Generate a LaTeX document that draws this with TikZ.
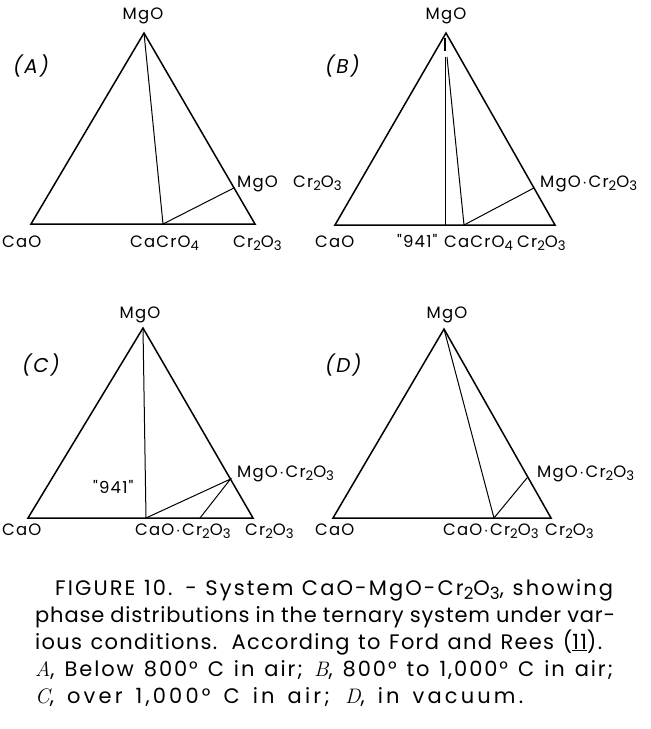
\documentclass[tikz,border=0pt]{standalone}
\usepackage{fontspec}
\usepackage{graphicx}
\usetikzlibrary{calc}
\newfontfamily\labfont[LetterSpace=7]{Poppins}
\newfontfamily\panfont[LetterSpace=10]{Poppins}
\newfontfamily\capfont{Poppins}
\newcommand\lsub[1]{\raisebox{-0.35ex}{\scalebox{0.8}{#1}}}
\newcommand\ltr[1]{{\rmfamily\itshape #1}}
\newcommand\mdot{\hspace{1.5pt}$\cdot$\hspace{1.5pt}}
\newcommand\capls[1]{\addfontfeature{LetterSpace=#1}}
\tikzset{
  tri/.style={line width=1.5pt, line join=miter},
  tie/.style={line width=1pt},
  lbl/.style={font=\labfont\fontsize{16.5}{16.5}\selectfont, inner sep=0pt, anchor=base west},
  toplbl/.style={font=\labfont\fontsize{16.5}{16.5}\selectfont, inner sep=0pt, anchor=base},
  panel/.style={font=\panfont\itshape\fontsize{20}{20}\selectfont, inner sep=0pt, anchor=base west},
  capline/.style={font=\capfont\fontsize{21}{21}\selectfont, inner sep=0pt, anchor=base west}
}
\begin{document}
\begin{tikzpicture}[x=1pt,y=-1pt]
\useasboundingbox (0,0) rectangle (651,729);
% ---------- Panel A ----------
\coordinate (Aapex) at (144,33);
\coordinate (AL) at (31,224);
\coordinate (AR) at (255,224);
\coordinate (Acc) at (163,224);
\coordinate (Asp) at ($(Aapex)!0.811!(AR)$);
\draw[tri] (AL) -- (Aapex) -- (AR) -- cycle;
\draw[tie] (Aapex) -- (Acc) -- (Asp);
\node[toplbl] (AtopMgO) at (143,19) {MgO};
\node[panel] (Alab) at (13,73) {(A)};
\node[lbl] (ACaO) at (2,247) {CaO};
\node[lbl] (ACaCrO) at (130,247) {CaCrO\lsub{4}};
\node[lbl] (ACrO) at (233,247) {Cr\lsub{2}O\lsub{3}};
\node[lbl] (AspMgO) at (237,187) {MgO};
\node[lbl] (AspCrO) at (293,187) {Cr\lsub{2}O\lsub{3}};
% ---------- Panel B ----------
\coordinate (Bapex) at (446,33);
\coordinate (BL) at (335,225);
\coordinate (BR) at (555,225);
\coordinate (Bn) at (445,225);
\coordinate (Bnt) at (445,57);
\coordinate (Bda) at (445,38);
\coordinate (Bdb) at (445,51);
\coordinate (Bct) at (447,57);
\coordinate (Bcc) at (464,225);
\coordinate (Bsp) at ($(Bapex)!0.807!(BR)$);
\draw[tri] (BL) -- (Bapex) -- (BR) -- cycle;
\draw[tie] (Bn) -- (Bnt);
\draw[line width=1.8pt] (Bda) -- (Bdb);
\draw[tie] (Bct) -- (Bcc) -- (Bsp);
\node[toplbl] (BtopMgO) at (446,19) {MgO};
\node[panel] (Blab) at (325,73) {(B)};
\node[lbl] (BCaO) at (315,247) {CaO};
\node[lbl] (B941) at (397,247) {"941"};
\node[lbl] (BCaCrO) at (444,247) {CaCrO\lsub{4}};
\node[lbl] (BCrO) at (517,247) {Cr\lsub{2}O\lsub{3}};
\node[lbl] (BspMgO) at (540,187) {MgO\mdot Cr\lsub{2}O\lsub{3}};
% ---------- Panel C ----------
\coordinate (Capex) at (143,328);
\coordinate (CL) at (28,518);
\coordinate (CR) at (253,518);
\coordinate (Cn) at (146,518);
\coordinate (Cb) at (200,518);
\coordinate (Csp) at ($(Capex)!0.795!(CR)$);
\draw[tri] (CL) -- (Capex) -- (CR) -- cycle;
\draw[tie] (Capex) -- (Cn) -- (Csp) -- (Cb);
\node[toplbl] (CtopMgO) at (140,318) {MgO};
\node[panel] (Clab) at (22,372) {(C)};
\node[lbl] (C941) at (93,493) {"941"};
\node[lbl] (CCaO) at (2,535) {CaO};
\node[lbl] (CCaCrO) at (135,535) {CaO\mdot Cr\lsub{2}O\lsub{3}};
\node[lbl] (CCrO) at (245,535) {Cr\lsub{2}O\lsub{3}};
\node[lbl] (CspMgO) at (237,477) {MgO\mdot Cr\lsub{2}O\lsub{3}};
% ---------- Panel D ----------
\coordinate (Dapex) at (444,329);
\coordinate (DL) at (333,518);
\coordinate (DR) at (551,518);
\coordinate (Dcc) at (494,518);
\coordinate (Dsp) at ($(Dapex)!0.783!(DR)$);
\draw[tri] (DL) -- (Dapex) -- (DR) -- cycle;
\draw[tie] (Dapex) -- (Dcc) -- (Dsp);
\node[toplbl] (DtopMgO) at (447,318) {MgO};
\node[panel] (Dlab) at (325,372) {(D)};
\node[lbl] (DCaO) at (315,535) {CaO};
\node[lbl] (DCaCrO) at (443,535) {CaO\mdot Cr\lsub{2}O\lsub{3}};
\node[lbl] (DCrO) at (545,535) {Cr\lsub{2}O\lsub{3}};
\node[lbl] (DspMgO) at (537,477) {MgO\mdot Cr\lsub{2}O\lsub{3}};
% ---------- Caption ----------
\node[capline] (cap1) at (55,595) {\capls{10}\makebox[558pt][s]{FIGURE 10. - System CaO-MgO-Cr\lsub{2}O\lsub{3}, showing}};
\node[capline] (cap2) at (35,622) {\capls{4}\makebox[580pt][s]{phase distributions in the ternary system under var-}};
\node[capline] (cap3) at (35,649) {\capls{6}\makebox[567pt][s]{ious conditions. According to Ford and Rees (\underline{11}).}};
\node[capline] (cap4) at (35,676) {\capls{9}\makebox[578pt][s]{\ltr{A}, Below 800° C in air; \ltr{B}, 800° to 1,000° C in air;}};
\node[capline] (cap5) at (35,703) {\capls{15}\makebox[488pt][s]{\ltr{C}, over 1,000° C in air; \ltr{D}, in vacuum.}};
\end{tikzpicture}
\end{document}
